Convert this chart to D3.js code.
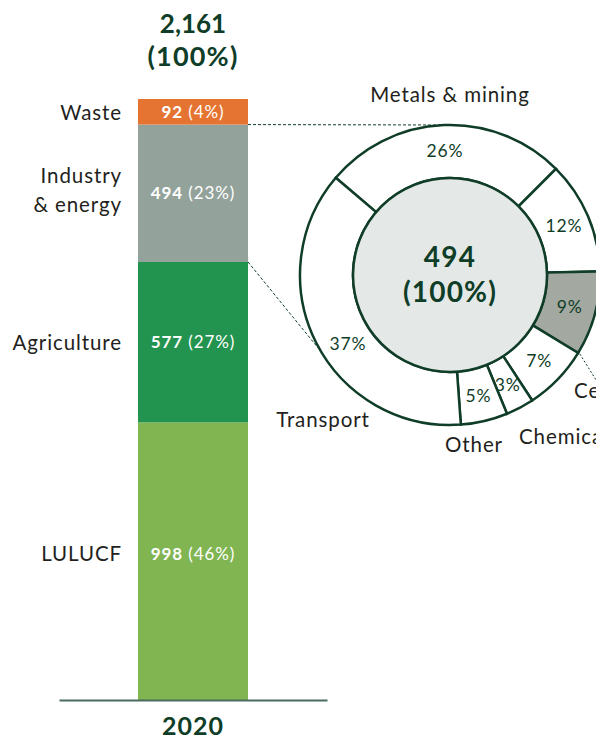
<!DOCTYPE html>
<html lang="en">
<head>
	<meta charset="utf-8">
	<title>Emissions 2020 - stacked bar and industry donut</title>
	<script src="https://cdn.jsdelivr.net/npm/d3@7"></script>
	<style>
		body { margin: 0; background: #fff; }
		text { font-family: "Lato", "Open Sans", sans-serif; }
	</style>
</head>
<body>
<script>
	// ---- data ----
	var year = "2020";
	var categories = ["LULUCF", "Agriculture", "Industry & energy", "Waste"]; // bottom to top
	var values = [998, 577, 494, 92];
	var shares = [46, 27, 23, 4];
	var totalLabel = "2,161";

	// breakdown of Industry & energy (clockwise from upper left)
	var sectorNames = ["Metals & mining", "Sector B", "Cement", "Sector D", "Chemicals", "Other", "Transport"];
	var sectorShares = [26, 12, 9, 7, 3, 5, 37];
	var industryTotal = "494";

	// ---- layout ----
	var w = 596, h = 744;
	var dark = "#0f3d27";
	var textCol = "#231f20";
	var barColors = ["#80b551", "#23944f", "#93a39b", "#e57432"];

	var svg = d3.select("body").append("svg")
		.attr("width", w)
		.attr("height", h);

	var total = d3.sum(values);

	var xScale = d3.scaleBand()
		.domain([year])
		.range([59, 327])
		.padding(0.418);

	var yScale = d3.scaleLinear()
		.domain([0, total])
		.range([700, 99]);

	// stack one row
	var row = {};
	categories.forEach(function(c, i) { row[c] = values[i]; });
	var stacked = d3.stack().keys(categories)([row]);

	var bx = xScale(year), bw = xScale.bandwidth(), bc = bx + bw / 2;

	svg.selectAll("rect.seg")
		.data(stacked)
		.enter()
		.append("rect")
		.attr("class", "seg")
		.attr("x", bx)
		.attr("width", bw)
		.attr("y", function(d) { return yScale(d[0][1]); })
		.attr("height", function(d) { return yScale(d[0][0]) - yScale(d[0][1]); })
		.attr("fill", function(d, i) { return barColors[i]; });

	// value labels inside bar
	var valLabels = svg.selectAll("text.val")
		.data(stacked)
		.enter()
		.append("text")
		.attr("class", "val")
		.attr("x", bc)
		.attr("y", function(d, i) {
			var mid = (yScale(d[0][0]) + yScale(d[0][1])) / 2;
			return i === 0 ? mid - 1 : mid + 6;
		})
		.attr("text-anchor", "middle")
		.attr("fill", "#fff")
		.attr("font-size", 17)
		.attr("letter-spacing", 0.9);
	valLabels.append("tspan")
		.attr("font-weight", 700)
		.text(function(d, i) { return values[i]; });
	valLabels.append("tspan")
		.text(function(d, i) { return " (" + shares[i] + "%)"; });

	// category labels on the left
	svg.selectAll("text.cat")
		.data(stacked)
		.enter()
		.append("text")
		.attr("class", "cat")
		.attr("x", bx - 16)
		.attr("y", function(d, i) {
			var mid = (yScale(d[0][0]) + yScale(d[0][1])) / 2;
			return i === 0 ? mid : mid + 8;
		})
		.attr("text-anchor", "end")
		.attr("fill", textCol)
		.attr("font-size", 20.5)
		.attr("letter-spacing", 0.9)
		.each(function(d, i) {
			var t = d3.select(this);
			if (categories[i] === "Industry & energy") {
				t.attr("y", null);
				var mid = (yScale(d[0][0]) + yScale(d[0][1])) / 2;
				t.append("tspan").attr("x", bx - 16).attr("y", mid - 10).text("Industry");
				t.append("tspan").attr("x", bx - 16).attr("y", mid + 19).text("& energy");
			} else {
				t.text(categories[i]);
			}
		});

	// total above the bar
	svg.append("text")
		.attr("x", bc).attr("y", 33)
		.attr("text-anchor", "middle")
		.attr("font-weight", 700).attr("font-size", 26)
		.attr("fill", dark)
		.text(totalLabel);
	svg.append("text")
		.attr("x", bc).attr("y", 66)
		.attr("text-anchor", "middle")
		.attr("font-weight", 700).attr("font-size", 27)
		.attr("letter-spacing", 1.2)
		.attr("fill", dark)
		.text("(100%)");

	// baseline axis
	var xAxis = svg.append("g")
		.attr("transform", "translate(0,700)")
		.call(d3.axisBottom(xScale).tickSize(0).tickSizeOuter(0).tickPadding(12));
	xAxis.select(".domain").attr("stroke", "#4a6b5e").attr("stroke-width", 2);
	xAxis.selectAll(".tick text")
		.attr("font-family", "Lato, sans-serif")
		.attr("font-size", 25)
		.attr("font-weight", 700)
		.attr("letter-spacing", 1)
		.attr("fill", dark)
		.attr("dy", "0.9em");

	// ---- donut ----
	var cx = 450, cy = 275, rIn = 97, rOut = 150;
	var start = -49.6 * Math.PI / 180;

	var pie = d3.pie().sort(null).value(function(d) { return d; })
		.startAngle(start).endAngle(start + 2 * Math.PI);
	var arcs = pie(sectorShares);
	var arc = d3.arc().innerRadius(rIn).outerRadius(rOut);
	var labelArc = d3.arc().innerRadius(rIn + 27).outerRadius(rIn + 27);

	function polar(a, r) {
		return [cx + Math.sin(a) * r, cy - Math.cos(a) * r];
	}

	// connector lines from bar to donut
	var ind = stacked[2][0];
	var p1 = polar(0, rOut), p2 = polar(239.4 * Math.PI / 180, rOut);
	svg.append("line")
		.attr("x1", bx + bw).attr("y1", yScale(ind[1]))
		.attr("x2", p1[0]).attr("y2", p1[1])
		.attr("stroke", dark).attr("stroke-width", 1).attr("stroke-dasharray", "3,2");
	svg.append("line")
		.attr("x1", bx + bw).attr("y1", yScale(ind[0]))
		.attr("x2", p2[0]).attr("y2", p2[1])
		.attr("stroke", dark).attr("stroke-width", 1).attr("stroke-dasharray", "3,2");

	var g = svg.append("g").attr("transform", "translate(" + cx + "," + cy + ")");

	g.selectAll("path")
		.data(arcs)
		.enter()
		.append("path")
		.attr("d", arc)
		.attr("fill", function(d, i) { return sectorNames[i] === "Cement" ? "#a3a8a1" : "#fff"; })
		.attr("stroke", dark)
		.attr("stroke-width", 2.5);

	g.append("circle")
		.attr("r", rIn)
		.attr("fill", "#e4e9e7")
		.attr("stroke", dark)
		.attr("stroke-width", 2.5);

	g.selectAll("text.pct")
		.data(arcs)
		.enter()
		.append("text")
		.attr("class", "pct")
		.attr("transform", function(d, i) {
			var c = labelArc.centroid(d);
			// Transport's share sits a little higher on the ring
			if (sectorNames[i] === "Transport") c = polar(236 * Math.PI / 180, rIn + 26).map(function(v, k) { return v - (k ? cy : cx); });
			return "translate(" + c + ")";
		})
		.attr("text-anchor", "middle")
		.attr("dy", "0.35em")
		.attr("font-size", 17.5)
		.attr("letter-spacing", 0.9)
		.attr("fill", dark)
		.text(function(d) { return d.data + "%"; });

	g.append("text")
		.attr("y", -8)
		.attr("text-anchor", "middle")
		.attr("font-weight", 700).attr("font-size", 28)
		.attr("letter-spacing", 1.2)
		.attr("fill", dark)
		.text(industryTotal);
	g.append("text")
		.attr("y", 27)
		.attr("text-anchor", "middle")
		.attr("font-weight", 700).attr("font-size", 28)
		.attr("letter-spacing", 1.2)
		.attr("fill", dark)
		.text("(100%)");

	// leader for Cement
	var cem = arcs[sectorNames.indexOf("Cement")];
	var lp = polar(cem.endAngle, rOut + 2);
	svg.append("line")
		.attr("x1", lp[0]).attr("y1", lp[1])
		.attr("x2", lp[0] + 18).attr("y2", lp[1] + 29)
		.attr("stroke", dark).attr("stroke-width", 1).attr("stroke-dasharray", "2,2");

	// sector name labels (offset from donut centre)
	var sectorLabelPos = {
		"Metals & mining": { dx: 0, dy: -173, anchor: "middle" },
		"Transport": { dx: -127, dy: 152, anchor: "middle" },
		"Other": { dx: 24, dy: 177, anchor: "middle" },
		"Chemicals": { dx: 69, dy: 169, anchor: "start" },
		"Cement": { dx: 124, dy: 123, anchor: "start" }
	};
	g.selectAll("text.sec")
		.data(sectorNames.filter(function(n) { return sectorLabelPos[n]; }))
		.enter()
		.append("text")
		.attr("class", "sec")
		.attr("x", function(n) { return sectorLabelPos[n].dx; })
		.attr("y", function(n) { return sectorLabelPos[n].dy; })
		.attr("text-anchor", function(n) { return sectorLabelPos[n].anchor; })
		.attr("font-size", 20.5)
		.attr("letter-spacing", 0.9)
		.attr("fill", textCol)
		.text(function(n) { return n; });
</script>
</body>
</html>
